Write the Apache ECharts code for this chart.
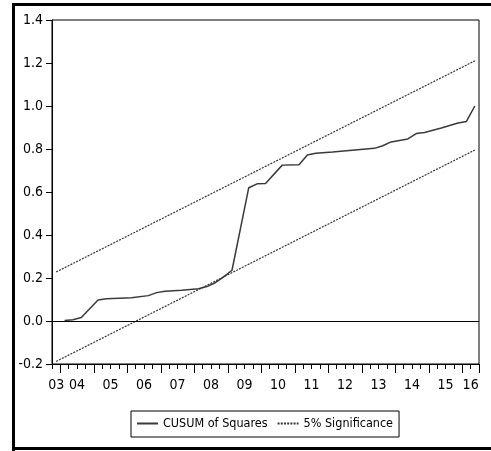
<!DOCTYPE html>
<html>
<head>
<meta charset="utf-8">
<script src="https://cdn.jsdelivr.net/npm/echarts@6/dist/echarts.min.js"></script>
<style>
  html, body { margin: 0; padding: 0; background: #fff; }
  #chart { width: 491px; height: 451px; }
</style>
</head>
<body>
<div id="chart"></div>
<script>
var FONT = "'Liberation Sans Narrow', 'DejaVu Sans Condensed', 'Arial Narrow', sans-serif";

// quarterly sample 2003Q4 .. 2016Q2
var startYear = 2003, startQ = 4, nObs = 51;
var yearLabels = ['03', '04', '05', '06', '07', '08', '09', '10', '11', '12', '13', '14', '15', '16'];

// CUSUM of squares at its corners
var cusumAt = ['2004Q1', '2004Q2', '2004Q3', '2005Q1', '2005Q2', '2006Q1', '2006Q3', '2006Q4',
    '2007Q1', '2007Q3', '2008Q1', '2008Q2', '2008Q3', '2008Q4', '2009Q1', '2009Q3', '2009Q4',
    '2010Q1', '2010Q3', '2011Q1', '2011Q2', '2011Q3', '2012Q1', '2012Q4', '2013Q2', '2013Q3',
    '2013Q4', '2014Q2', '2014Q3', '2014Q4', '2015Q2', '2015Q4', '2016Q1', '2016Q2'];
var cusumVal = [0.002, 0.006, 0.016, 0.098, 0.103, 0.108, 0.118, 0.132,
    0.138, 0.143, 0.150, 0.160, 0.178, 0.205, 0.236, 0.620, 0.638,
    0.640, 0.725, 0.727, 0.772, 0.780, 0.786, 0.797, 0.803, 0.815,
    0.833, 0.847, 0.872, 0.877, 0.898, 0.921, 0.928, 1.000];

// 5% significance bands (straight lines)
var sigAt = ['2003Q4', '2016Q2'];
var sigUpper = [0.228, 1.21];
var sigLower = [-0.188, 0.795];

var quarters = [];
for (var i = 0; i < nObs; i++) {
    var k = startQ - 1 + i;
    quarters.push((startYear + Math.floor(k / 4)) + 'Q' + (k % 4 + 1));
}

// year label sits in the middle of that year's span on the axis
var yearCenter = {};
var spanStart = 0;
for (var i = 1; i <= nObs; i++) {
    if (i === nObs || quarters[i].slice(0, 4) !== quarters[i - 1].slice(0, 4)) {
        var yr = parseInt(quarters[i - 1].slice(0, 4), 10);
        yearCenter[(spanStart + i) / 2] = yearLabels[yr - startYear];
        spanStart = i;
    }
}

var pairs = function (xs, ys) {
    return xs.map(function (x, j) { return [x, ys[j]]; });
};

var chart = echarts.init(document.getElementById('chart'));

var option = {
    animation: false,
    backgroundColor: '#fff',
    textStyle: { fontFamily: FONT },
    graphic: [
        { type: 'rect', shape: { x: 12, y: 3, width: 479, height: 3 }, style: { fill: '#000' } },
        { type: 'rect', shape: { x: 12, y: 3, width: 3, height: 448 }, style: { fill: '#000' } },
        { type: 'rect', shape: { x: 12, y: 447, width: 479, height: 3 }, style: { fill: '#000' } }
    ],
    grid: {
        left: 52,
        top: 20,
        right: 12,
        bottom: 87,
        show: true,
        borderColor: '#000',
        borderWidth: 1
    },
    legend: {
        data: ['CUSUM of Squares', '5% Significance'],
        left: 131,
        top: 411,
        orient: 'horizontal',
        borderColor: '#000',
        borderWidth: 1,
        padding: [6, 6, 7, 5],
        itemWidth: 21,
        itemHeight: 14,
        itemGap: 9,
        itemStyle: { opacity: 0 },
        textStyle: { fontFamily: FONT, fontSize: 12.5, color: '#000' }
    },
    xAxis: [
        {
            type: 'category',
            position: 'bottom',
            data: quarters,
            boundaryGap: true,
            axisLine: { onZero: false, lineStyle: { color: '#000', width: 1 } },
            axisTick: { show: true, interval: 0, length: 5, lineStyle: { color: '#000' } },
            axisLabel: { show: false },
            splitLine: { show: false }
        },
        {
            type: 'category',
            position: 'bottom',
            data: quarters,
            boundaryGap: true,
            axisLine: { show: false, onZero: false },
            axisTick: {
                show: true,
                length: 9,
                interval: function (idx, val) { return /Q1$/.test(val); },
                lineStyle: { color: '#000' }
            },
            axisLabel: { show: false },
            splitLine: { show: false }
        },
        {
            type: 'value',
            position: 'bottom',
            min: 0,
            max: nObs,
            interval: 0.5,
            axisLine: { show: false, onZero: false },
            axisTick: { show: false },
            splitLine: { show: false },
            axisLabel: {
                margin: 14,
                fontSize: 14,
                fontFamily: FONT,
                color: '#000',
                showMinLabel: true,
                showMaxLabel: true,
                formatter: function (v) { return yearCenter[v] || ''; }
            }
        }
    ],
    yAxis: {
        type: 'value',
        min: -0.2,
        max: 1.4,
        interval: 0.2,
        axisLine: { show: true, lineStyle: { color: '#000' } },
        axisTick: { show: true, length: 6, lineStyle: { color: '#000' } },
        splitLine: { show: false },
        axisLabel: {
            margin: 9,
            fontSize: 14,
            fontFamily: FONT,
            color: '#000',
            formatter: function (v) { return v.toFixed(1); }
        }
    },
    series: [
        {
            name: 'CUSUM of Squares',
            type: 'line',
            xAxisIndex: 0,
            symbol: 'none',
            data: pairs(cusumAt, cusumVal),
            lineStyle: { color: '#3a3a3a', width: 1.5 },
            itemStyle: { color: '#3a3a3a' },
            z: 3,
            markLine: {
                silent: true,
                symbol: ['none', 'none'],
                label: { show: false },
                lineStyle: { color: '#000', width: 1, type: 'solid' },
                data: [{ yAxis: 0 }]
            }
        },
        {
            name: '5% Significance',
            type: 'line',
            xAxisIndex: 0,
            symbol: 'none',
            data: pairs(sigAt, sigUpper),
            lineStyle: { color: '#333', width: 1.2, type: [2, 1.2] },
            itemStyle: { color: '#333' }
        },
        {
            name: '5% Significance',
            type: 'line',
            xAxisIndex: 0,
            symbol: 'none',
            data: pairs(sigAt, sigLower),
            lineStyle: { color: '#333', width: 1.2, type: [2, 1.2] },
            itemStyle: { color: '#333' }
        }
    ]
};

chart.setOption(option);
</script>
</body>
</html>
